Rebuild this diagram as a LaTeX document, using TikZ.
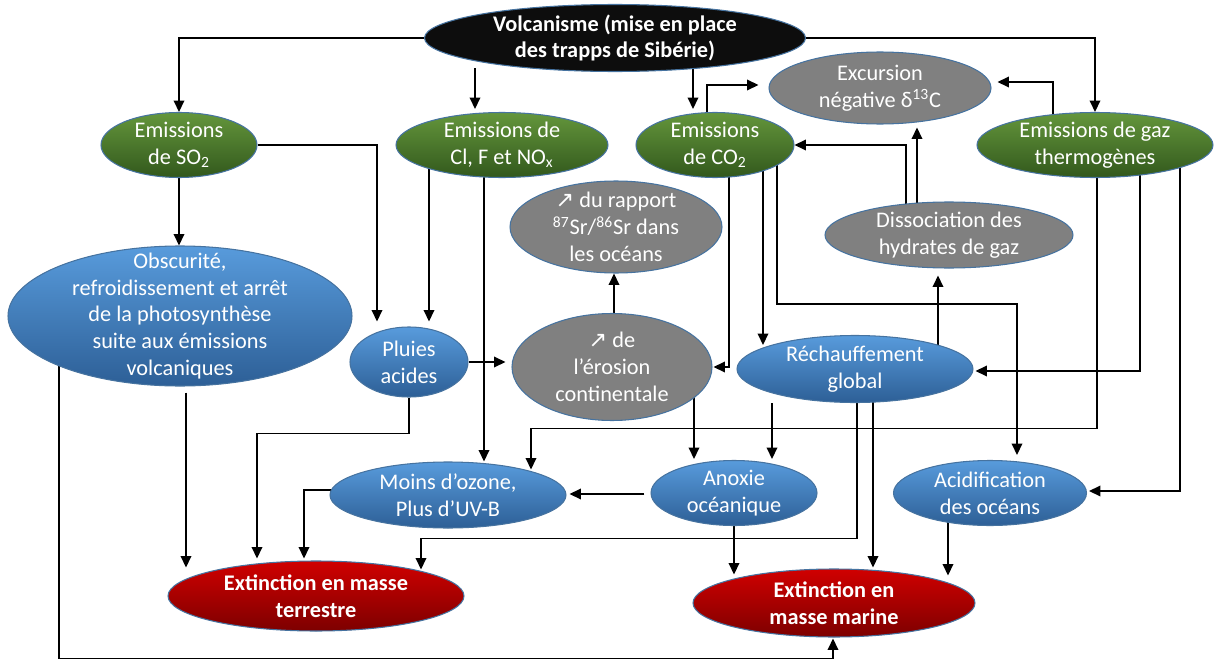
\documentclass[tikz,border=0pt]{standalone}
\usepackage{fontspec}
\setmainfont{Carlito}
\newfontfamily\symf{DejaVu Sans}
\usetikzlibrary{shapes.geometric,arrows.meta,calc,backgrounds}

\definecolor{bord}{RGB}{70,115,160}
\definecolor{greent}{RGB}{100,150,60}
\definecolor{greenb}{RGB}{50,88,28}
\definecolor{bluet}{RGB}{88,155,220}
\definecolor{blueb}{RGB}{45,95,150}
\definecolor{redt}{RGB}{208,0,0}
\definecolor{redb}{RGB}{125,0,0}
\definecolor{grayf}{RGB}{128,128,128}

\tikzset{
  bub/.style={ellipse, draw=bord, line width=0.6pt, inner sep=-20pt, align=center,
    text=white, font=\fontsize{12.7}{15.3}\selectfont},
  sz/.style 2 args={minimum width=#1*0.02cm, minimum height=#2*0.02cm},
  src/.style={bub, fill=black!95, font=\fontsize{12.7}{15.3}\selectfont\bfseries},
  emis/.style={bub, top color=greent, bottom color=greenb},
  cons/.style={bub, top color=bluet, bottom color=blueb},
  proxy/.style={bub, fill=grayf},
  ext/.style={bub, top color=redt, bottom color=redb, font=\fontsize{12.7}{15.3}\selectfont\bfseries},
  arr/.style={-{Triangle[length=6.5pt,width=6pt]}, line width=1pt}
}

\begin{document}
\begin{tikzpicture}[x=0.02cm,y=-0.02cm]
\useasboundingbox (0,0) rectangle (1215,659);

% source
\node[src, sz={381}{67}] (volc) at (615,38) {Volcanisme (mise en place\\des trapps de Sibérie)};

% emissions
\node[emis, sz={156}{65}] (so2) at (179,145) {Emissions\\de SO\textsubscript{2}};
\node[emis, sz={212}{65}] (clf) at (502,145) {Emissions de\\Cl, F et NO\textsubscript{x}};
\node[emis, sz={158}{65}] (co2) at (715,145) {Emissions\\de CO\textsubscript{2}};
\node[emis, sz={236}{65}] (gaz) at (1095,145) {Emissions de gaz\\thermogènes};

% signatures
\node[proxy, sz={222}{72}] (exc) at (880,88) {Excursion\\négative δ\textsuperscript{13}C};
\node[proxy, sz={212}{92}] (sr) at (616,227) {{\symf ↗} du rapport\\\textsuperscript{87}Sr/\textsuperscript{86}Sr dans\\les océans};
\node[proxy, sz={248}{66}] (diss) at (949,235) {Dissociation des\\hydrates de gaz};
\node[proxy, sz={200}{107}] (eros) at (612,367) {{\symf ↗} de\\l’érosion\\continentale};

% effects
\node[cons, sz={344}{140}] (obsc) at (180,316) {Obscurité,\\refroidissement et arrêt\\de la photosynthèse\\suite aux émissions\\volcaniques};
\node[cons, sz={118}{70}] (pluies) at (409,362) {Pluies\\acides};
\node[cons, sz={236}{67}] (rech) at (855,369) {Réchauffement\\global};
\node[cons, sz={236}{66}] (ozone) at (448,495) {Moins d’ozone,\\Plus d’UV-B};
\node[cons, sz={166}{65}] (anox) at (734,493) {Anoxie\\océanique};
\node[cons, sz={193}{65}] (acid) at (990,493) {Acidification\\des océans};

% extinctions
\node[ext, sz={296}{70}] (extt) at (316,596) {Extinction en masse\\terrestre};
\node[ext, sz={282}{68}] (extm) at (834,603) {Extinction en\\masse marine};

\begin{pgfonlayer}{background}
% from volcanism
\draw[arr] (volc) -| (so2);
\draw[arr] ($(volc.south)+(-140,-4)$) -- ($(clf.north)+(-27,-3)$);
\draw[arr] ($(volc.south)+(78,-4)$) -- ($(co2.north)+(-22,-3)$);
\draw[arr] (volc) -| (gaz);
% carbon isotopes
\draw[arr] ($(co2)+(-8,0)$) |- ($(exc.west)+(-10,-3)$);
\draw[arr] ($(gaz)+(-42,0)$) |- ($(exc.east)+(6,-6)$);
\draw[arr] ($(diss)+(-32,0)$) -- ($(exc.south)+(37,3)$);
\draw[arr] ($(diss)+(-43,0)$) |- (co2);
% SO2 and Cl, F, NOx
\draw[arr] (so2) -- (so2 |- obsc.north);
\draw[arr] (so2) -| ($(pluies.north)+(-32,-5)$);
\draw[arr] ($(clf)+(-73,0)$) -- ($(pluies.north)+(20,-5)$);
\draw[arr] ($(clf)+(-18,0)$) -- ($(ozone.north)+(36,0)$);
\draw[arr] (pluies) -- ($(eros.west)+(-6,-5)$);
\draw[arr] (pluies.south) -- ++(0,36) -| ($(extt.north)+(-59,-2)$);
\draw[arr] ($(obsc.south)+(6,6)$) -- ($(extt.north)+(-130,7)$);
\draw[arr] ($(obsc)+(-121,0)$) |- ($(extm.south)+(-1,21)$) -- ($(extm.south)+(-1,1)$);
\draw[arr] ($(ozone)+(0,-5)$) -| ($(extt.north)+(-12,-2)$);
\draw[arr] ($(eros.north)+(2,0)$) -- ($(sr.south)+(-2,0)$);
% CO2
\draw[arr] ($(co2)+(14,0)$) |- ($(eros.east)+(1,0)$);
\draw[arr] ($(co2)+(48,0)$) -- ($(rech.north)+(-92,10)$);
\draw[arr] ($(co2)+(62,0)$) |- ($(acid.north)+(27,-156)$) -- ($(acid.north)+(27,-5)$);
% warming and thermogenic gas
\draw[arr] ($(rech)+(83,0)$) -- ($(diss.south)+(-11,7)$);
\draw[arr] ($(gaz)+(45,0)$) |- ($(rech.east)+(2,2)$);
\draw[arr] ($(gaz)+(85,0)$) |- ($(acid.east)+(2,-2)$);
\draw[arr] ($(gaz)+(2,0)$) |- ($(ozone.north)+(83,-33)$) -- ($(ozone.north)+(83,8)$);
% towards the extinctions
\draw[arr] ($(eros)+(82,0)$) -- ($(anox.north)+(-40,-1)$);
\draw[arr] ($(rech.south)+(-83,0)$) -- ($(anox.north)+(38,-1)$);
\draw[arr] ($(anox.west)+(-6,1)$) -- ($(ozone.east)+(3,-1)$);
\draw[arr] ($(rech)+(2,0)$) |- ($(extt.north)+(105,-22)$) -- ($(extt.north)+(105,9)$);
\draw[arr] ($(rech)+(18,0)$) -- ($(extm.north)+(39,-1)$);
\draw[arr] (anox) -- ($(extm.north)+(-100,6)$);
\draw[arr] ($(acid)+(-42,0)$) -- ($(extm.north)+(114,7)$);
\end{pgfonlayer}
\end{tikzpicture}
\end{document}
